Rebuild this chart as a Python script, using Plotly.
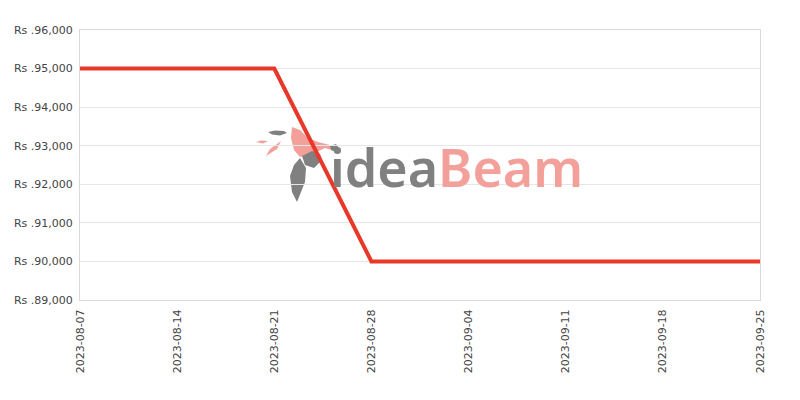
import plotly.graph_objects as go

dates = ["2023-08-07", "2023-08-14", "2023-08-21", "2023-08-28", "2023-09-04",
         "2023-09-11", "2023-09-18", "2023-09-25"]
prices = [95000, 95000, 95000, 90000, 90000, 90000, 90000, 90000]
y_ticks = [89000, 90000, 91000, 92000, 93000, 94000, 95000, 96000]
y_labels = ["Rs .89,000", "Rs .90,000", "Rs .91,000", "Rs .92,000", "Rs .93,000",
            "Rs .94,000", "Rs .95,000", "Rs .96,000"]

fig = go.Figure()
fig.add_trace(go.Scatter(x=dates, y=prices, mode="lines",
                         line=dict(color="#e8382a", width=4), hoverinfo="skip"))

# watermark logo (decorative), positioned in paper coordinates
def pp(px, py):
    return (px - 80) / 680, (300 - py) / 270

def poly(points, color, opacity=1.0):
    parts = []
    for i, (px, py) in enumerate(points):
        x, y = pp(px, py)
        parts.append(("M" if i == 0 else "L") + f"{x:.4f},{y:.4f}")
    fig.add_shape(type="path", xref="paper", yref="paper", path=" ".join(parts) + " Z",
                  fillcolor=color, line=dict(width=0), opacity=opacity, layer="below")

gray = "#808080"
salmon = "#f4a09a"
poly([(268, 132), (275, 130.5), (284, 131), (287, 133), (280, 135.5), (272, 134.5)], gray)
poly([(256, 142), (261, 140.5), (268, 141), (263, 143.5)], salmon)
poly([(266, 156), (270, 149), (281, 141), (277, 149)], salmon)
poly([(292, 127), (300, 130), (308, 138), (318, 142), (330, 145), (339, 152), (325, 148),
      (312, 154), (300, 157), (294, 150), (291, 138)], salmon)
poly([(302, 156), (312, 151), (320, 154), (322, 160), (314, 168), (305, 165)], gray)
poly([(300, 158), (306, 168), (305, 182), (297, 202), (292, 192), (290, 176), (294, 165)], gray)
poly([(330, 146), (336, 144), (339, 148), (336, 152), (331, 150)], gray)

fig.add_annotation(xref="paper", yref="paper", x=0.365, y=0.495, xanchor="left", yanchor="middle",
                   text="<span style='color:#808080'>idea</span><span style='color:#f4a09a'>Beam</span>",
                   showarrow=False, font=dict(family="Noto Sans, DejaVu Sans", size=52, weight=600))

fig.update_layout(
    width=792, height=392,
    margin=dict(l=72, r=40, t=22, b=100, autoexpand=False),
    plot_bgcolor="white", paper_bgcolor="white",
    showlegend=False,
    font=dict(family="DejaVu Sans, Liberation Sans", size=11, color="#444"),
    xaxis=dict(type="date", range=["2023-08-07", "2023-09-25"], tickvals=dates, ticktext=dates,
               tickangle=-90, showgrid=False, showline=True, linecolor="#d9d9d9", mirror=True,
               automargin=False,
               ticks="", zeroline=False, ticklabelstandoff=4, tickfont=dict(size=11, color="#444")),
    yaxis=dict(range=[89000, 96000], tickvals=y_ticks, ticktext=y_labels,
               showgrid=True, gridcolor="#e6e6e6", showline=True, linecolor="#d9d9d9", mirror=True,
               automargin=False,
               ticks="", zeroline=False, ticklabelstandoff=4, tickfont=dict(size=11, color="#444")),
)
fig.write_html("out.html")
